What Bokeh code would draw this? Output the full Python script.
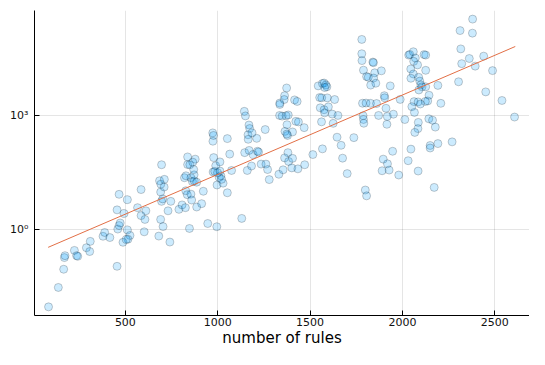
from bokeh.plotting import figure
from bokeh.models import Range1d, FixedTicker
from bokeh.embed import file_html
from bokeh.resources import INLINE

# number of rules (x) and measured value (y, log scale)
rules = [84,137,166,170,173,224,236,242,289,307,310,379,388,416,455,455,466,459,466,472,493,511,511,525,514,487,505,566,585,585,606,611,602,681,685,692,691,696,696,711,710,702,731,746,691,704,741,790,820,828,807,825,827,835,847,855,863,855,859,873,886,886,913,922,946,995,996,1008,1017,1029,1021,1052,1130,872,837,837,849,878,865,870,973,974,977,1052,978,989,1012,975,984,999,1012,1065,1075,1144,1150,1169,1173,1164,1165,1186,1211,1257,1146,1170,1192,1215,1221,1160,1183,1235,1261,1270,1279,1331,1336,1335,1373,1362,1360,1336,1416,1430,1349,1370,1382,1375,1423,1437,1468,1364,1405,1378,1374,1544,1567,1576,1586,1591,1579,1552,1563,1593,1633,1555,1576,1599,1579,1620,1651,1562,1625,1646,1668,1737,1676,1701,1515,1567,1380,1362,1384,1405,1401,1434,1471,1354,1780,1780,1781,1840,1843,1789,1806,1815,1850,1844,1886,1828,1856,1784,1803,1827,1860,1902,1904,1911,1951,1787,1789,1791,1871,1918,1916,1799,1806,1947,1896,1919,1890,1928,1980,1934,2034,2040,2059,2117,2126,2070,2061,2082,2045,2059,2046,2126,2088,2094,2100,2106,2089,2126,2192,1988,2144,2137,2124,2063,2085,2097,2051,2065,2208,2013,2143,2163,2086,2084,2067,2178,2046,2150,2150,2192,2269,2031,2085,2172,2380,2312,2379,2316,2362,2321,2394,2440,2488,2304,2451,2539,2607]

values = [0.0096,0.031,0.093,0.188,0.211,0.29,0.211,0.203,0.341,0.271,0.50,0.68,0.856,0.63,0.111,3.35,8.56,1.05,1.30,1.52,2.69,6.2,1.0,0.716,0.569,0.473,0.562,3.82,11.4,2.37,1.88,3.16,0.89,0.688,19.4,15.8,9.8,5.6,51,21.1,13.3,6.5,3.16,5.6,1.88,1.22,0.48,3.45,23.3,26.2,4.52,3.82,10.6,8.4,1.09,23.3,18.5,8.66,6.06,19.2,17.8,3.98,4.87,10.3,1.47,1.21,15,23.7,26.2,16.8,21.1,9.4,2.0,27.7,81.8,51.6,51,71.6,59.6,38.2,349,211,299,247,78.5,48.1,60.6,32.9,34.1,31.6,34.9,97,36.1,1281,972,562,454,311,237,349,251,427,106,121,94.4,115,110,36.1,47.3,53.1,53.1,38.2,20.8,28.7,2113,1000,5248,3293,2615,1939,2556,2331,961,983,1029,572,700,676,479,382,369,299,325,5957,6880,7079,6310,5623,5402,2951,2901,2884,2615,1585,1413,1679,1168,1084,1000,680,620,269,165,262,75.9,29.9,94.4,133,106,77.2,62,75,42.2,39.8,51,37.6,98288,41450,27384,25119,24130,15400,10470,10000,13110,9550,14790,6237,6998,2089,2113,2078,2054,3293,2901,1540,1078,983,785,624,1000,944,586,11.1,7.8,115,71.6,54,35.5,37,27.4,5957,38230,39810,46770,39360,38230,31990,26150,21130,16500,12230,9440,15230,10000,7943,6310,5623,4650,5623,6130,2630,3388,2399,2331,2304,2265,1995,1698,1202,2078,781,818,750,657,452,359,495,131,163,140,183,203,65,34.9,13,335000,167900,143700,55590,31080,22780,19610,35890,14960,7630,4145,2469,907]

# fitted trend line end points
fit_x = [82, 2611]
fit_y = [0.349, 64200]

x_ticks = [500, 1000, 1500, 2000, 2500]
y_ticks = [1, 1000]
y_tick_labels = {1: "10\u2070", 1000: "10\u00b3"}

assert len(rules) == len(values)

p = figure(width=529, height=349, output_backend="svg", toolbar_location=None,
           y_axis_type="log",
           x_range=Range1d(8, 2688), y_range=Range1d(0.0057, 563600),
           min_border_left=34, min_border_right=0, min_border_top=10, min_border_bottom=0)

p.scatter(rules, values, size=8, fill_color="#009afa", fill_alpha=0.2,
          line_color="black", line_alpha=0.2, line_width=1)
p.line(fit_x, fit_y, line_color="#e26f46", line_width=1)

p.outline_line_color = None
p.background_fill_color = "white"

p.xaxis.ticker = FixedTicker(ticks=x_ticks)
p.yaxis.ticker = FixedTicker(ticks=y_ticks)
p.yaxis.major_label_overrides = y_tick_labels

for ax in (p.xaxis, p.yaxis):
    ax.axis_line_color = "black"
    ax.axis_line_width = 1
    ax.major_tick_in = 5
    ax.major_tick_out = 0
    ax.major_tick_line_color = "black"
    ax.minor_tick_line_color = None
    ax.major_label_text_font = "DejaVu Sans"
    ax.major_label_text_font_size = "11px"
    ax.major_label_text_color = "#111111"

p.xaxis.major_label_standoff = 2
p.yaxis.major_label_standoff = 6

p.xaxis.axis_label = "number of rules"
p.xaxis.axis_label_text_font = "DejaVu Sans"
p.xaxis.axis_label_text_font_size = "15px"
p.xaxis.axis_label_text_font_style = "normal"
p.xaxis.axis_label_text_color = "black"
p.xaxis.axis_label_standoff = 0

p.xgrid.grid_line_color = "black"
p.xgrid.grid_line_alpha = 0.1
p.ygrid.grid_line_color = "black"
p.ygrid.grid_line_alpha = 0.1

open("out.html", "w").write(file_html(p, INLINE))
